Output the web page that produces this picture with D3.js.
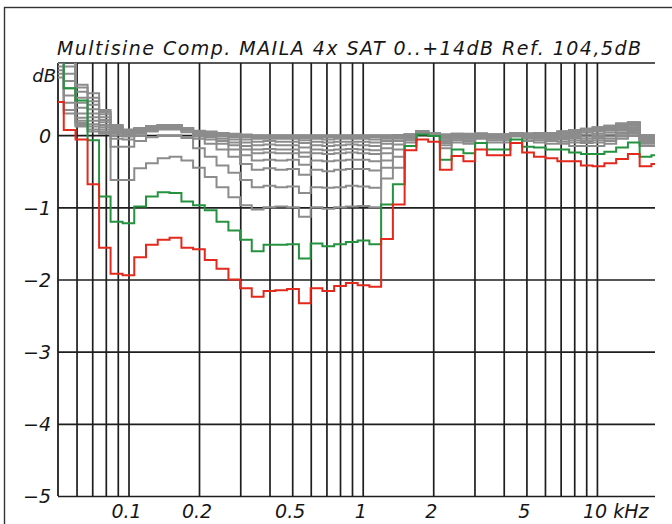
<!DOCTYPE html>
<html>
<head>
<meta charset="utf-8">
<script src="https://cdn.jsdelivr.net/npm/d3@7/dist/d3.min.js"></script>
<style>
  html, body { margin: 0; padding: 0; background: #fff; }
  svg { display: block; }
  text { font-family: "DejaVu Sans", "Liberation Sans", Arial, sans-serif; font-style: italic; fill: #161616; }
</style>
</head>
<body>
<svg id="chart" width="672" height="524"></svg>
<script>
// band centres, 1/6 octave (Hz)
const freqs = [50, 56, 63, 71, 79, 89, 100, 112, 126, 141, 159, 178, 200, 224, 252, 283, 317, 356,
  400, 449, 504, 566, 635, 713, 800, 898, 1008, 1131, 1270, 1425, 1600, 1796, 2016, 2263, 2540, 2851,
  3200, 3592, 4032, 4525, 5080, 5702, 6400, 7184, 8063, 9051, 10159, 11404, 12800, 14368, 16127, 18102];

// +14 dB
const red = [0.46, 0.07, -0.06, -0.68, -1.56, -1.92, -1.94, -1.69, -1.52, -1.45, -1.42, -1.56, -1.58,
  -1.73, -1.85, -2.0, -2.12, -2.24, -2.16, -2.15, -2.13, -2.33, -2.12, -2.16, -2.09, -2.05, -2.08, -2.10,
  -1.44, -0.96, -0.21, -0.06, -0.09, -0.48, -0.29, -0.36, -0.20, -0.28, -0.28, -0.11, -0.24, -0.30,
  -0.32, -0.36, -0.36, -0.42, -0.43, -0.39, -0.33, -0.26, -0.43, -0.40];

// +13 dB
const green = [1.3, 0.65, 0.48, -0.07, -0.85, -1.20, -1.22, -0.99, -0.85, -0.79, -0.80, -0.92, -0.97,
  -1.04, -1.20, -1.32, -1.45, -1.61, -1.52, -1.52, -1.51, -1.71, -1.50, -1.54, -1.51, -1.48, -1.46, -1.51,
  -0.96, -0.68, -0.15, 0.01, -0.01, -0.34, -0.20, -0.25, -0.11, -0.20, -0.20, -0.06, -0.16, -0.17,
  -0.20, -0.20, -0.24, -0.26, -0.26, -0.23, -0.17, -0.10, -0.30, -0.28];

// lower levels (grey)
const gray12 = [0.8, 0.3, 0.12, 0.05, 0.02, -0.62, -0.62, -0.46, -0.39, -0.32, -0.30, -0.35,
  -0.45, -0.58, -0.72, -0.86, -0.97, -1.03, -1.0, -0.99, -1.0, -1.13, -1.0, -1.02, -1.0, -0.99, -0.98, -1.0,
  -0.6, -0.45, -0.1, 0.02, 0.0, -0.18, -0.1, -0.12, -0.05, -0.1, -0.1, -0.02, -0.08, -0.1, -0.12, -0.12,
  -0.15, -0.15, -0.15, -0.12, -0.05, 0.0, -0.15, -0.15];
const gray11 = [0.85, 0.35, 0.14, 0.08, 0.04, -0.16, -0.16, -0.08, -0.03, 0.0, 0.0, -0.04,
  -0.18, -0.3, -0.42, -0.52, -0.62, -0.72, -0.70, -0.72, -0.71, -0.80, -0.72, -0.73, -0.72, -0.70, -0.71, -0.73,
  -0.45, -0.3, -0.07, 0.04, 0.01, -0.14, -0.07, -0.09, -0.03, -0.07, -0.07, 0.0, -0.05, -0.07, -0.08, -0.09,
  -0.1, -0.11, -0.1, -0.08, -0.02, 0.03, -0.12, -0.12];
const gray10 = [0.9, 0.45, 0.17, 0.12, 0.05, -0.05, -0.06, 0.0, 0.05, 0.08, 0.08, 0.04,
  -0.05, -0.12, -0.2, -0.3, -0.4, -0.48, -0.46, -0.48, -0.47, -0.55, -0.48, -0.5, -0.48, -0.47, -0.47, -0.49,
  -0.35, -0.2, -0.05, 0.05, 0.02, -0.11, -0.05, -0.07, -0.02, -0.05, -0.05, 0.01, -0.03, -0.05, -0.06, -0.06,
  -0.07, -0.08, -0.07, -0.05, 0.0, 0.05, -0.1, -0.1];
const gray9 = [0.95, 0.55, 0.2, 0.15, 0.08, 0.0, -0.02, 0.03, 0.07, 0.1, 0.1, 0.06,
  -0.02, -0.06, -0.12, -0.2, -0.28, -0.35, -0.34, -0.35, -0.34, -0.41, -0.35, -0.36, -0.35, -0.34, -0.34, -0.36,
  -0.25, -0.13, -0.03, 0.05, 0.02, -0.09, -0.04, -0.05, -0.01, -0.04, -0.04, 0.02, -0.02, -0.03, -0.04, -0.04,
  -0.04, -0.05, -0.04, -0.02, 0.03, 0.07, -0.08, -0.08];
const gray8 = [1.0, 0.65, 0.24, 0.2, 0.11, 0.03, 0.0, 0.05, 0.09, 0.12, 0.12, 0.07,
  0.0, -0.03, -0.08, -0.14, -0.2, -0.25, -0.24, -0.25, -0.25, -0.3, -0.25, -0.26, -0.25, -0.24, -0.25, -0.26,
  -0.18, -0.08, -0.02, 0.05, 0.03, -0.07, -0.03, -0.04, 0.0, -0.03, -0.03, 0.02, -0.01, -0.02, -0.02, -0.02,
  -0.01, -0.02, -0.01, 0.01, 0.06, 0.09, -0.06, -0.06];
const gray7 = [1.1, 0.75, 0.3, 0.25, 0.14, 0.05, 0.02, 0.06, 0.1, 0.13, 0.13, 0.08,
  0.02, 0.0, -0.05, -0.1, -0.15, -0.2, -0.19, -0.2, -0.2, -0.24, -0.2, -0.21, -0.2, -0.19, -0.2, -0.21,
  -0.12, -0.05, -0.01, 0.05, 0.03, -0.05, -0.02, -0.03, 0.01, -0.02, -0.02, 0.03, 0.0, -0.01, -0.01, 0.0,
  0.01, 0.01, 0.02, 0.04, 0.08, 0.11, -0.05, -0.05];
const gray6 = [1.2, 0.85, 0.38, 0.3, 0.18, 0.07, 0.03, 0.07, 0.11, 0.13, 0.13, 0.09,
  0.03, 0.01, -0.02, -0.06, -0.1, -0.14, -0.13, -0.14, -0.14, -0.17, -0.14, -0.15, -0.14, -0.13, -0.14, -0.15,
  -0.08, -0.03, 0.0, 0.05, 0.03, -0.03, -0.01, -0.02, 0.02, -0.01, -0.01, 0.03, 0.01, 0.0, 0.0, 0.02,
  0.03, 0.04, 0.05, 0.07, 0.1, 0.13, -0.04, -0.04];
const gray5 = [1.3, 0.95, 0.45, 0.36, 0.21, 0.09, 0.04, 0.08, 0.12, 0.14, 0.14, 0.1,
  0.03, 0.02, 0.0, -0.03, -0.06, -0.09, -0.08, -0.09, -0.09, -0.11, -0.09, -0.1, -0.09, -0.09, -0.09, -0.1,
  -0.05, -0.02, 0.0, 0.05, 0.03, -0.02, 0.0, -0.01, 0.02, 0.0, 0.0, 0.03, 0.02, 0.01, 0.01, 0.03,
  0.05, 0.06, 0.07, 0.09, 0.12, 0.15, -0.03, -0.03];
const gray4 = [1.4, 1.05, 0.52, 0.42, 0.25, 0.1, 0.05, 0.08, 0.12, 0.14, 0.14, 0.1,
  0.04, 0.03, 0.01, -0.01, -0.03, -0.05, -0.05, -0.05, -0.05, -0.07, -0.05, -0.06, -0.05, -0.05, -0.05, -0.06,
  -0.03, -0.01, 0.01, 0.05, 0.03, -0.01, 0.01, 0.0, 0.02, 0.01, 0.01, 0.03, 0.02, 0.02, 0.02, 0.04,
  0.06, 0.07, 0.09, 0.11, 0.14, 0.16, -0.02, -0.02];
const gray3 = [1.4, 1.15, 0.6, 0.47, 0.29, 0.12, 0.06, 0.09, 0.12, 0.14, 0.14, 0.1,
  0.05, 0.04, 0.02, 0.0, -0.01, -0.03, -0.03, -0.03, -0.03, -0.04, -0.03, -0.03, -0.03, -0.03, -0.03, -0.03,
  -0.02, 0.0, 0.01, 0.05, 0.03, 0.0, 0.01, 0.01, 0.02, 0.01, 0.01, 0.03, 0.02, 0.02, 0.03, 0.05,
  0.07, 0.08, 0.1, 0.12, 0.15, 0.17, -0.01, -0.01];
const gray2 = [1.4, 1.25, 0.66, 0.52, 0.32, 0.13, 0.07, 0.09, 0.12, 0.14, 0.14, 0.1,
  0.05, 0.04, 0.03, 0.01, 0.0, -0.01, -0.01, -0.01, -0.01, -0.02, -0.01, -0.01, -0.01, -0.01, -0.01, -0.01,
  -0.01, 0.0, 0.01, 0.05, 0.03, 0.01, 0.02, 0.01, 0.02, 0.01, 0.01, 0.03, 0.02, 0.03, 0.03, 0.05,
  0.07, 0.09, 0.11, 0.13, 0.16, 0.18, 0.0, 0.0];
const gray1 = [1.4, 1.35, 0.7, 0.58, 0.35, 0.14, 0.08, 0.1, 0.12, 0.14, 0.14, 0.1,
  0.06, 0.05, 0.03, 0.02, 0.01, 0.0, 0.0, 0.0, 0.0, 0.0, 0.0, 0.0, 0.0, 0.0, 0.0, 0.0,
  0.0, 0.0, 0.01, 0.05, 0.03, 0.01, 0.02, 0.02, 0.02, 0.01, 0.01, 0.03, 0.02, 0.03, 0.03, 0.05,
  0.07, 0.09, 0.11, 0.13, 0.16, 0.18, 0.0, 0.0];

const grayCurves = [gray1, gray2, gray3, gray4, gray5, gray6, gray7, gray8, gray9, gray10, gray11, gray12];

// grid and labels
const gridFreqs = [60, 70, 80, 90, 100, 200, 300, 400, 500, 600, 700, 800, 900,
  1000, 2000, 3000, 4000, 5000, 6000, 7000, 8000, 9000, 10000];
const dbTicks = [-5, -4, -3, -2, -1, 0];
const xLabelVals = [100, 200, 500, 1000, 2000, 5000, 10000];
const xLabelText = ['0.1', '0.2', '0.5', '1', '2', '5', '10 kHz'];
const title = 'Multisine Comp. MAILA 4x SAT 0..+14dB Ref. 104,5dB';

const svg = d3.select('#chart');
const plotL = 58, plotR = 655, plotT = 63, plotB = 496;

const x = d3.scaleLog().domain([50, 17700]).range([plotL, plotR]);
const y = d3.scaleLinear().domain([-5, 1]).range([plotB, plotT]);

// outer frame (only top and left edges fall inside the picture)
svg.append('rect')
    .attr('x', 4.5).attr('y', 7.5).attr('width', 700).attr('height', 600)
    .attr('fill', 'none').attr('stroke', '#333').attr('stroke-width', 1.4);

svg.append('defs').append('clipPath').attr('id', 'plot-clip')
    .append('rect').attr('x', plotL).attr('y', plotT).attr('width', plotR - plotL).attr('height', plotB - plotT);

// vertical grid
svg.append('g')
    .attr('transform', `translate(0,${plotB})`)
    .call(d3.axisBottom(x).tickValues(gridFreqs).tickSize(-(plotB - plotT)).tickFormat(''))
    .call(g => g.select('.domain').remove())
    .call(g => g.selectAll('line').attr('stroke', '#1e1e1e').attr('stroke-width', 1.7));

// horizontal grid + y labels
const yAxis = svg.append('g')
    .attr('transform', `translate(${plotL},0)`)
    .call(d3.axisLeft(y).tickValues(dbTicks).tickSize(-(plotR - plotL)).tickPadding(7)
        .tickFormat(d => d === 0 ? '0' : '\u2212' + Math.abs(d)))
    .call(g => g.select('.domain').remove());
yAxis.selectAll('line').attr('stroke', '#1e1e1e').attr('stroke-width', 1.7);
yAxis.selectAll('text')
    .attr('font-size', 19).attr('font-family', '"DejaVu Sans", "Liberation Sans", Arial, sans-serif')
    .attr('font-style', 'italic').attr('fill', '#161616').attr('dy', '0.36em');

// axis frame lines
svg.append('line').attr('x1', plotL).attr('x2', plotL).attr('y1', plotT).attr('y2', plotB)
    .attr('stroke', '#1e1e1e').attr('stroke-width', 1.8);
svg.append('line').attr('x1', plotL).attr('x2', plotR).attr('y1', plotT).attr('y2', plotT)
    .attr('stroke', '#1e1e1e').attr('stroke-width', 1.7);

// curves
const line = d3.line()
    .x((d, i) => x(freqs[i]))
    .y(d => y(d))
    .curve(d3.curveStep);

const curves = svg.append('g').attr('clip-path', 'url(#plot-clip)');

curves.selectAll('.gray')
    .data(grayCurves).enter()
    .append('path')
    .attr('class', 'gray')
    .attr('fill', 'none')
    .attr('stroke', '#8c8c8c')
    .attr('stroke-width', 2)
    .attr('d', line);

curves.append('path').datum(green)
    .attr('fill', 'none').attr('stroke', '#24923f').attr('stroke-width', 2).attr('d', line);

curves.append('path').datum(red)
    .attr('fill', 'none').attr('stroke', '#e2291c').attr('stroke-width', 2).attr('d', line);

// dB unit label
svg.append('text')
    .attr('x', 56).attr('y', 82)
    .attr('text-anchor', 'end').attr('font-size', 18)
    .text('dB');

// x labels
svg.append('g').selectAll('text')
    .data(xLabelVals).enter()
    .append('text')
    .attr('x', (d, i) => i === xLabelVals.length - 1 ? x(d) - 14 : x(d) - 2)
    .attr('y', 518)
    .attr('text-anchor', (d, i) => i === xLabelVals.length - 1 ? 'start' : 'middle')
    .attr('font-size', 19)
    .text((d, i) => xLabelText[i]);

// title
svg.append('text')
    .attr('x', 57).attr('y', 55)
    .attr('font-size', 19)
    .attr('textLength', 584).attr('lengthAdjust', 'spacing')
    .text(title);
</script>
</body>
</html>
